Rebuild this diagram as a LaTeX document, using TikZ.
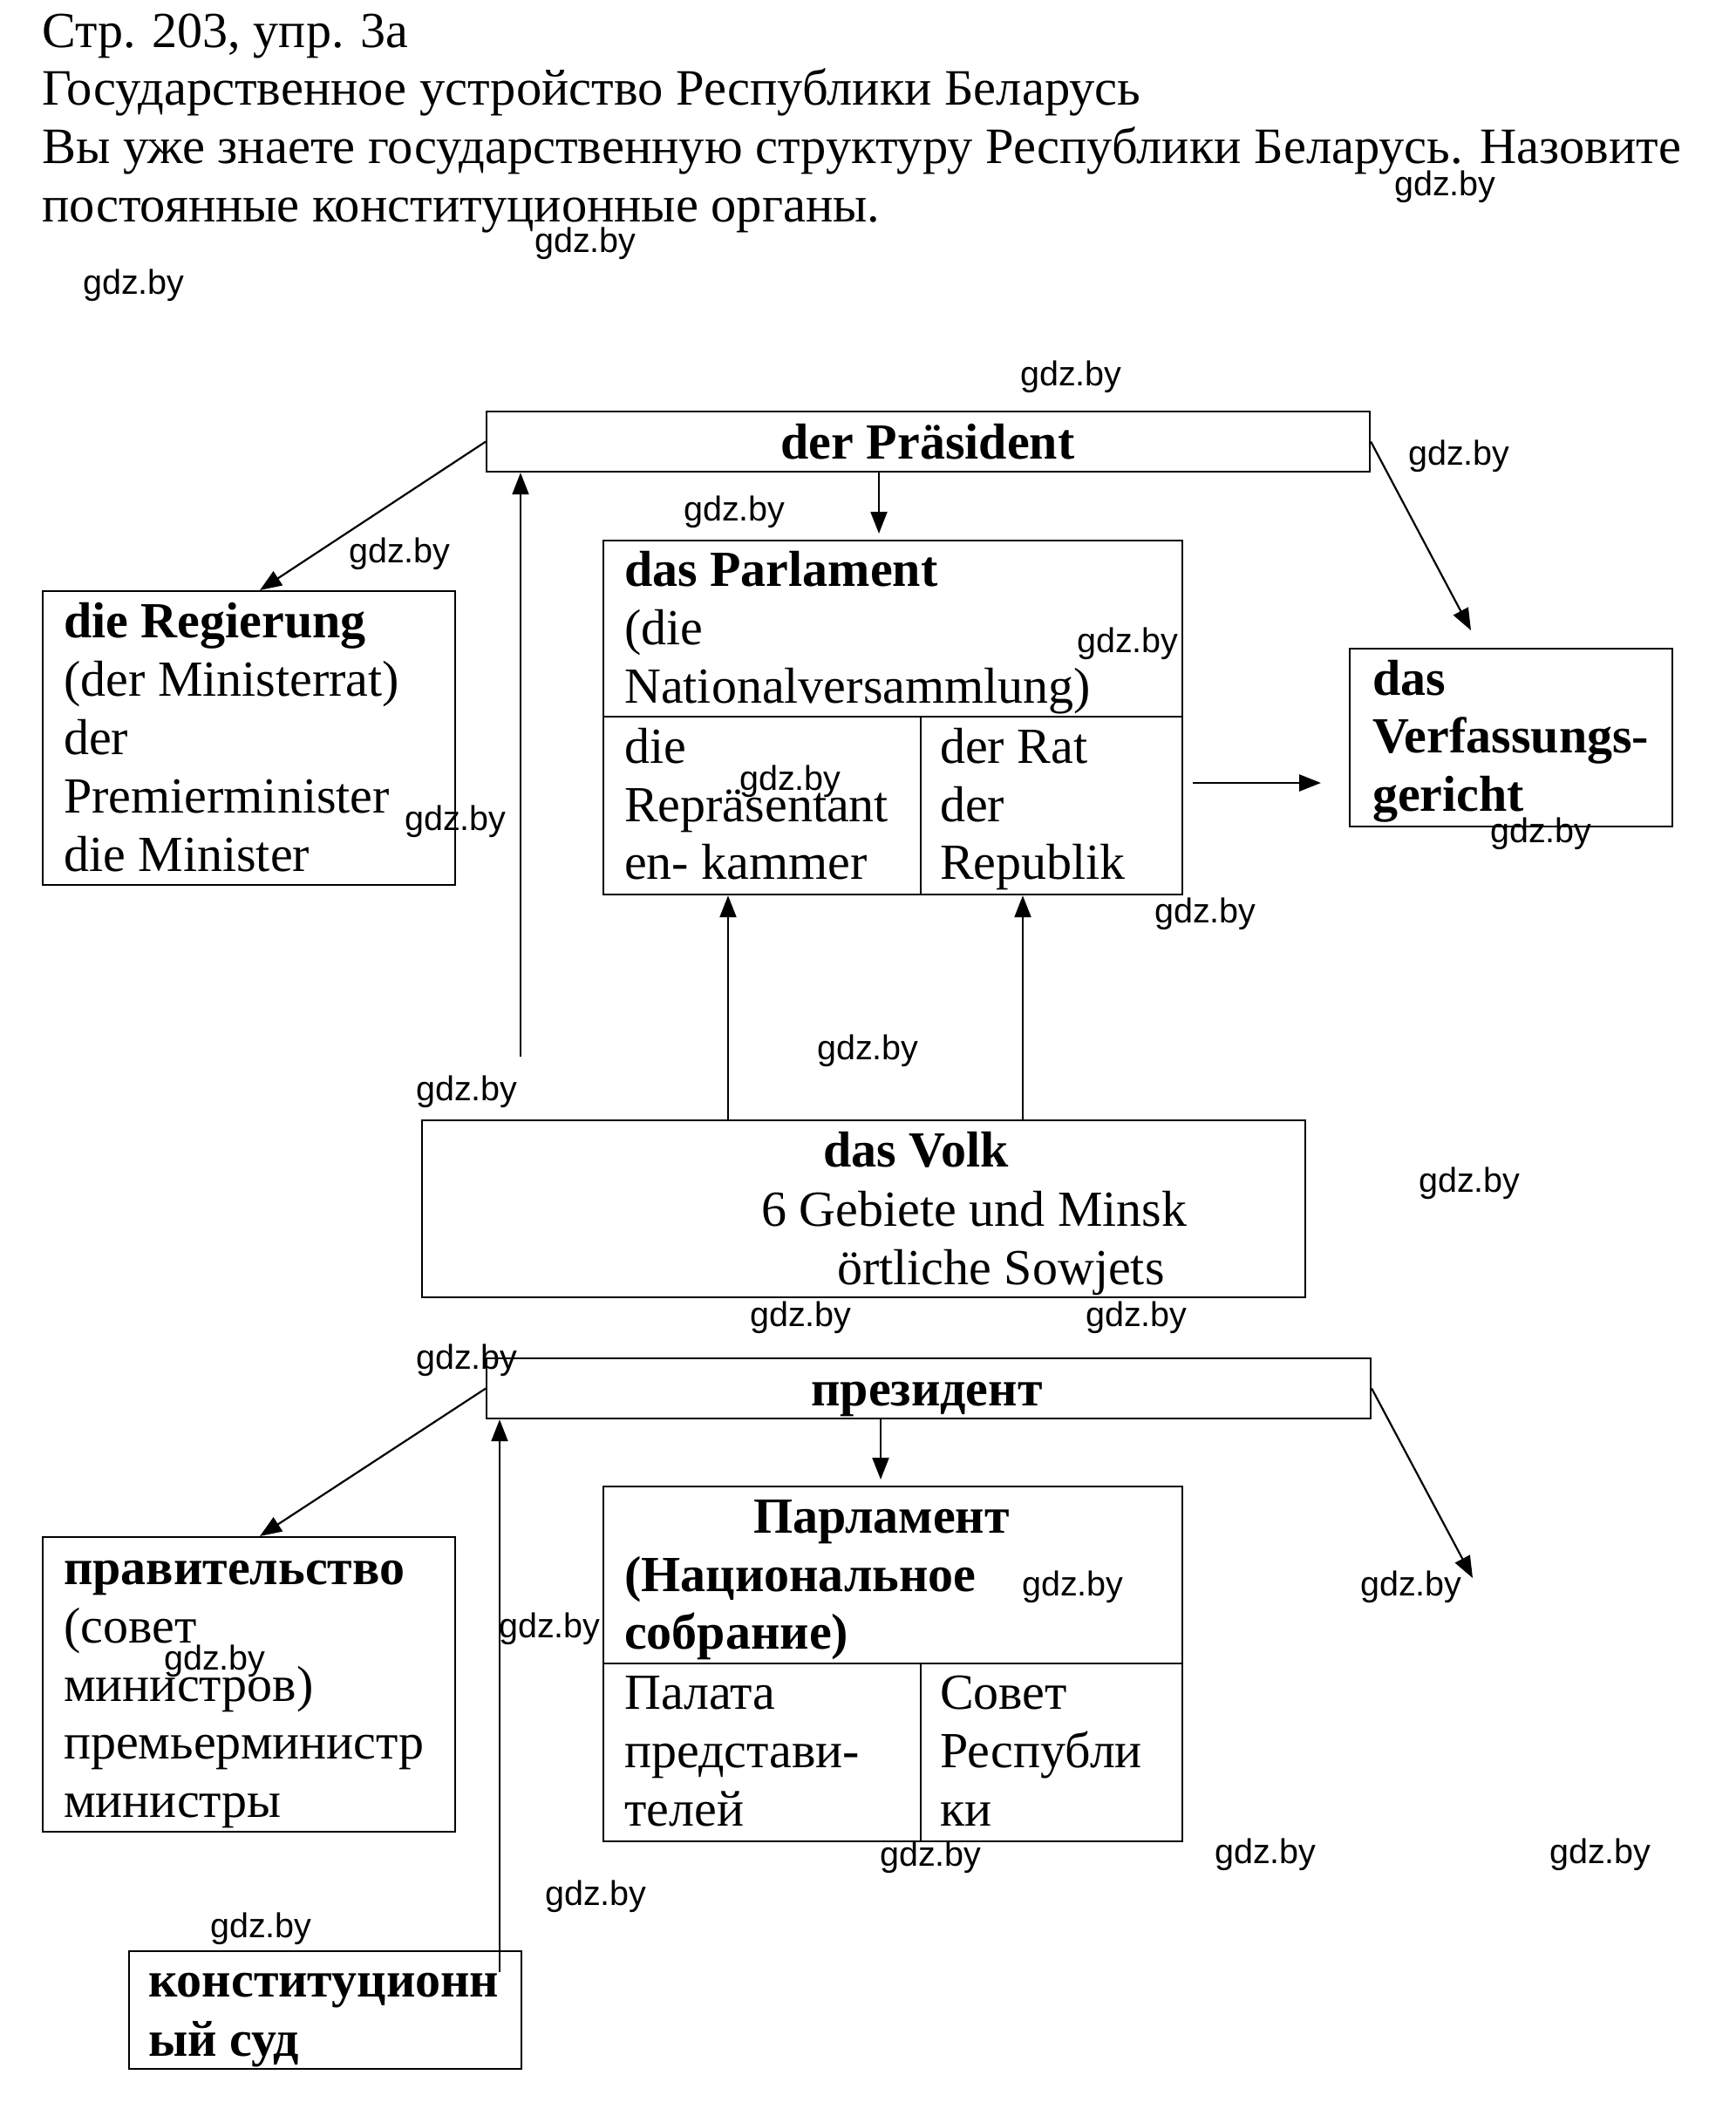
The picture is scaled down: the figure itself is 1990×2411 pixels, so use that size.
\documentclass[tikz,border=0pt]{standalone}
\usepackage{fontspec}
\setmainfont{Liberation Serif}
\newfontfamily\wmfont{Liberation Sans}
\usetikzlibrary{arrows.meta}
\tikzset{
  box/.style={draw, line width=2.2pt, inner sep=0pt, anchor=north west},
  tx/.style={anchor=base west, inner sep=0pt, font=\fontsize{58}{67}\selectfont},
  tt/.style={anchor=base west, inner sep=0pt, font=\fontsize{58.5}{67}\selectfont},
  tb/.style={anchor=base west, inner sep=0pt, font=\fontsize{58}{67}\selectfont\bfseries},
  tc/.style={anchor=base, inner sep=0pt, font=\fontsize{58}{67}\selectfont\bfseries},
  wm/.style={anchor=base west, inner sep=0pt, font=\wmfont\fontsize{39.5}{40}\selectfont},
  arr/.style={line width=2.2pt, -{Triangle[length=25pt,width=19pt]}},
  ln/.style={line width=2.2pt}
}
\begin{document}
\begin{tikzpicture}[x=1pt,y=-1pt]
\useasboundingbox[fill=white] (0,0) rectangle (1990,2411);

% ---------- title ----------
\node[tx] (t1) at (48,55) {Стр. 203, упр. 3а};
\node[tt] (t2) at (48,121) {Государственное устройство Республики Беларусь};
\node[tt] (t3) at (48,188) {Вы уже знаете государственную структуру Республики Беларусь. Назовите};
\node[tt] (t4) at (48,254) {постоянные конституционные органы.};

% ---------- German diagram: boxes ----------
\node[box, minimum width=1013pt, minimum height=69pt] (pres) at (557,471) {};
\node[box, minimum width=473pt, minimum height=337pt] (reg) at (48,677) {};
\node[box, minimum width=664pt, minimum height=202pt] (parlTop) at (691,619) {};
\node[box, minimum width=364pt, minimum height=204pt] (parlL) at (691,821) {};
\node[box, minimum width=300pt, minimum height=204pt] (parlR) at (1055,821) {};
\node[box, minimum width=370pt, minimum height=204pt] (verf) at (1547,743) {};
\node[box, minimum width=1013pt, minimum height=203pt] (volk) at (483,1284) {};

% texts
\node[tc] (presT) at (1064,526) {der Präsident};
\node[tb] (reg1) at (73,731) {die Regierung};
\node[tx] (reg2) at (73,798) {(der Ministerrat)};
\node[tx] (reg3) at (73,865) {der};
\node[tx] (reg4) at (73,932) {Premierminister};
\node[tx] (reg5) at (73,999) {die Minister};

\node[tb] (parl1) at (716,672) {das Parlament};
\node[tx] (parl2) at (716,739) {(die};
\node[tx] (parl3) at (716,806) {Nationalversammlung)};
\node[tx] (pl1) at (716,875) {die};
\node[tx] (pl2) at (716,942) {Repräsentant};
\node[tx] (pl3) at (716,1008) {en- kammer};
\node[tx] (pr1) at (1078,875) {der Rat};
\node[tx] (pr2) at (1078,942) {der};
\node[tx] (pr3) at (1078,1008) {Republik};

\node[tb] (vf1) at (1574,797) {das};
\node[tb] (vf2) at (1574,863) {Verfassungs-};
\node[tb] (vf3) at (1574,930) {gericht};

\node[tb] (vk1) at (944,1338) {das Volk};
\node[tx] (vk2) at (873,1406) {6 Gebiete und Minsk};
\node[tx] (vk3) at (960,1473) {örtliche Sowjets};

% connectors
\coordinate (vfree) at (597,1212);
\coordinate (vtip) at (1687,723);
\draw[arr] (pres.west) -- (reg.north -| 298,0);
\draw[arr] (vfree) -- (pres.south -| vfree);
\draw[arr, shorten >=7pt] (pres.south -| 1008,0) -- (parlTop.north -| 1008,0);
\draw[arr] (pres.east) -- (vtip);
\draw[arr, line width=2.8pt, shorten <=11pt, shorten >=32pt] (parlR.east |- 0,898) -- (verf.west |- 0,898);
\draw[arr] (volk.north -| 835,0) -- (parlL.south -| 835,0);
\draw[arr] (volk.north -| 1173,0) -- (parlR.south -| 1173,0);

% ---------- Russian diagram: boxes ----------
\node[box, minimum width=1014pt, minimum height=69pt] (praes) at (557,1557) {};
\node[box, minimum width=473pt, minimum height=338pt] (prav) at (48,1762) {};
\node[box, minimum width=664pt, minimum height=203pt] (rparlTop) at (691,1704) {};
\node[box, minimum width=364pt, minimum height=204pt] (rparlL) at (691,1907) {};
\node[box, minimum width=300pt, minimum height=204pt] (rparlR) at (1055,1907) {};
\node[box, minimum width=450pt, minimum height=135pt] (konst) at (147,2237) {};

\node[tc] (praesT) at (1063,1612) {президент};
\node[tb] (pv1) at (73,1817) {правительство};
\node[tx] (pv2) at (73,1884) {(совет};
\node[tx] (pv3) at (73,1951) {министров)};
\node[tx] (pv4) at (73,2017) {премьерминистр};
\node[tx] (pv5) at (73,2084) {министры};

\node[tb] (rp1) at (864,1758) {Парламент};
\node[tb] (rp2) at (716,1825) {(Национальное};
\node[tb] (rp3) at (716,1891) {собрание)};
\node[tx] (rl1) at (716,1960) {Палата};
\node[tx] (rl2) at (716,2027) {представи-};
\node[tx] (rl3) at (716,2094) {телей};
\node[tx] (rr1) at (1078,1960) {Совет};
\node[tx] (rr2) at (1078,2027) {Республи};
\node[tx] (rr3) at (1078,2094) {ки};

\node[tb] (ks1) at (170,2290) {конституционн};
\node[tb] (ks2) at (170,2358) {ый суд};

\coordinate (kfree) at (573,2262);
\coordinate (rtip) at (1689,1810);
\draw[arr] (praes.west) -- (prav.north -| 298,0);
\draw[arr] (kfree) -- (praes.south -| kfree);
\draw[arr, shorten >=7pt] (praes.south -| 1010,0) -- (rparlTop.north -| 1010,0);
\draw[arr] (praes.east) -- (rtip);

% ---------- watermarks ----------
\node[wm] (w1) at (1599,224) {gdz.by};
\node[wm] (w2) at (613,289) {gdz.by};
\node[wm] (w3) at (95,337) {gdz.by};
\node[wm] (w4) at (1170,442) {gdz.by};
\node[wm] (w5) at (1615,533) {gdz.by};
\node[wm] (w6) at (784,597) {gdz.by};
\node[wm] (w7) at (400,645) {gdz.by};
\node[wm] (w8) at (1235,748) {gdz.by};
\node[wm] (w9) at (848,906) {gdz.by};
\node[wm] (w10) at (464,952) {gdz.by};
\node[wm] (w11) at (1709,966) {gdz.by};
\node[wm] (w12) at (1324,1058) {gdz.by};
\node[wm] (w13) at (937,1215) {gdz.by};
\node[wm] (w14) at (477,1262) {gdz.by};
\node[wm] (w15) at (1627,1367) {gdz.by};
\node[wm] (w16) at (860,1521) {gdz.by};
\node[wm] (w17) at (1245,1521) {gdz.by};
\node[wm] (w18) at (477,1570) {gdz.by};
\node[wm] (w19) at (1172,1830) {gdz.by};
\node[wm] (w20) at (1560,1830) {gdz.by};
\node[wm] (w21) at (572,1878) {gdz.by};
\node[wm] (w22) at (188,1915) {gdz.by};
\node[wm] (w23) at (1009,2140) {gdz.by};
\node[wm] (w24) at (1393,2137) {gdz.by};
\node[wm] (w25) at (1777,2137) {gdz.by};
\node[wm] (w26) at (625,2185) {gdz.by};
\node[wm] (w27) at (241,2222) {gdz.by};
\end{tikzpicture}
\end{document}
